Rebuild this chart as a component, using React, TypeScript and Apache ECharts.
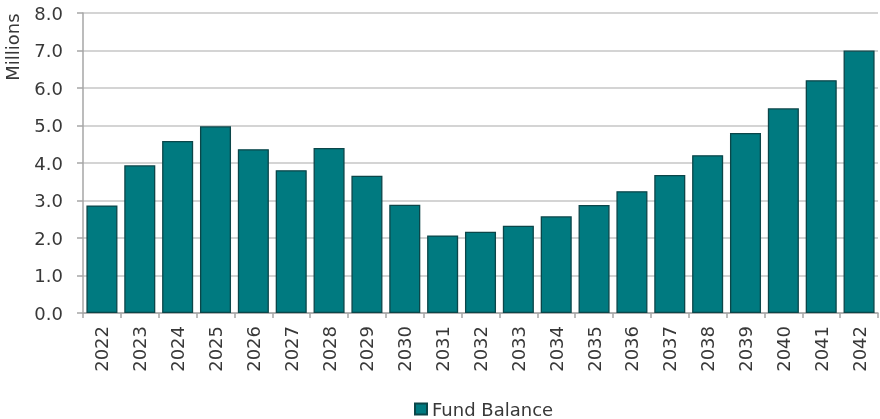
import React, { useEffect, useRef } from "react";
import * as echarts from "echarts";

const years = ["2022","2023","2024","2025","2026","2027","2028","2029","2030","2031","2032","2033","2034","2035","2036","2037","2038","2039","2040","2041","2042"];
const fundBalance = [2.87,3.94,4.59,4.98,4.37,3.81,4.40,3.66,2.89,2.07,2.17,2.33,2.58,2.88,3.25,3.68,4.21,4.80,5.46,6.21,7.00];
const seriesName = "Fund Balance";
const yAxisTitle = "Millions";

const FONT = "DejaVu Sans";
const TEXT = "#383838";

export default function App() {
  const ref = useRef<HTMLDivElement>(null);
  useEffect(() => {
    const chart = echarts.init(ref.current!, null, { renderer: "svg" });
    chart.setOption({
      animation: false,
      grid: { left: 83, right: 2, top: 13, bottom: 106, containLabel: false },
      legend: {
        data: [seriesName],
        left: 414,
        top: 400,
        padding: 0,
        icon: "rect",
        itemWidth: 12,
        itemHeight: 11,
        itemGap: 5,
        textStyle: { fontFamily: FONT, fontSize: 18, color: TEXT },
      },
      graphic: [
        {
          type: "text",
          x: 12,
          y: 47,
          rotation: Math.PI / 2,
          style: {
            text: yAxisTitle,
            font: `18px "${FONT}"`,
            fill: TEXT,
            textAlign: "center",
            textVerticalAlign: "middle",
          },
        },
      ],
      xAxis: {
        type: "category",
        data: years,
        axisLine: { show: true, lineStyle: { color: "#a6a6a6", width: 1.5 } },
        axisTick: { show: true, length: 5, lineStyle: { color: "#a6a6a6", width: 1.5 } },
        axisLabel: { rotate: 90, margin: 13, fontFamily: FONT, fontSize: 18, color: TEXT },
      },
      yAxis: {
        type: "value",
        min: 0,
        max: 8,
        interval: 1,
        axisLine: { show: true, lineStyle: { color: "#a6a6a6", width: 1.5 } },
        axisTick: { show: true, length: 6, lineStyle: { color: "#a6a6a6", width: 1.5 } },
        axisLabel: {
          margin: 20,
          fontFamily: FONT,
          fontSize: 18,
          color: TEXT,
          formatter: (v: number) => v.toFixed(1),
        },
        splitLine: { show: true, lineStyle: { color: "#c6c6c6", width: 1.5 } },
      },
      series: [
        {
          name: seriesName,
          type: "bar",
          data: fundBalance,
          barCategoryGap: "18%",
          itemStyle: { color: "#007a80", borderColor: "#0b4649", borderWidth: 1.3 },
        },
      ],
    });
    return () => chart.dispose();
  }, []);
  return <div ref={ref} style={{ position: "fixed", left: 0, top: 0, width: 880, height: 419 }} />;
}
